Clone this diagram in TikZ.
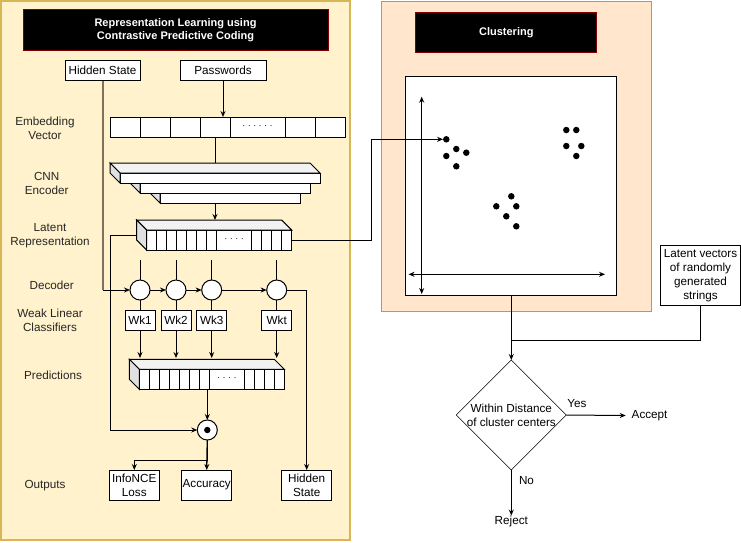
\documentclass[tikz,border=0pt]{standalone}
\usepackage{fontspec}
\setmainfont{Liberation Sans}
\usetikzlibrary{arrows.meta,positioning,shapes.geometric}
\definecolor{cpcfill}{HTML}{FFF2CC}
\definecolor{cpcline}{HTML}{D6B656}
\definecolor{clufill}{HTML}{FFE6CC}
\definecolor{cluline}{HTML}{D79B00}
\definecolor{titleline}{HTML}{800000}
\definecolor{hidline}{HTML}{7F7360}
\definecolor{topface}{HTML}{F2F2F2}
\definecolor{sideface}{HTML}{E0E0E0}
\tikzset{>={Stealth[length=6pt,width=5pt]}, % filled heads like the sketch
x=1pt, y=-1pt, % one unit is one pixel of the sketch, y runs down
every node/.style={font=\fontsize{11.7}{14}\selectfont, inner sep=0pt, outer sep=0pt},
box/.style={draw, fill=white, align=center, minimum width=50pt, minimum height=30pt}, % labelled boxes
title/.style={draw=titleline, fill=black, text=white, align=center, font=\fontsize{11}{13}\selectfont\bfseries},
cell/.style={draw, fill=white, minimum width=30pt, minimum height=20pt}, % one slot of a vector
bar/.style={draw, fill=white, minimum width=145pt, minimum height=20pt}, % front face of a long vector
unit/.style={circle, draw, fill=white, minimum size=20pt}, % decoder step
wk/.style={draw, fill=white, minimum width=30pt, minimum height=20pt},
lbl/.style={align=center, text=black!85}, % row names on the left
dot/.style={circle, fill=black, minimum size=6.5pt},
decision/.style={diamond, draw, line width=0.6pt, minimum width=110pt, minimum height=110pt},
}
% grey top and side faces behind a front face, depth 10
\newcommand{\depthfaces}[1]{%
\filldraw[fill=topface] (#1.north west) -- ++(-10,-10) -- ([shift={(-10,-10)}]#1.north east) -- (#1.north east) -- cycle;
\filldraw[fill=sideface] (#1.north west) -- ++(-10,-10) -- ([shift={(-10,-10)}]#1.south west) -- (#1.south west) -- cycle;}

\begin{document}
\begin{tikzpicture}[line width=1pt]
\useasboundingbox (0,0) rectangle (741,542);
% panels
\draw[fill=cpcfill, draw=cpcline, line width=1.5pt] (0.75,0.75) rectangle (350,540);
\draw[fill=clufill, draw=cluline, line width=1.5pt] (381.7,1.7) rectangle (651.7,311.7);
\node[title, minimum width=305pt, minimum height=40.7pt] (cpc) at (175.5,30.3) {Representation Learning using\\Contrastive Predictive Coding};
\node[title, minimum width=180.7pt, minimum height=39.6pt] (clu) at (506.3,32.5) {Clustering};

% row names
\node[lbl] (lemb) at (45,128) {Embedding\\Vector};
\node[lbl] (lcnn) at (46.7,183.7) {CNN\\Encoder};
\node[lbl] (llat) at (50,235.5) {Latent\\Representation};
\node[lbl] (ldec) at (51.7,285.7) {Decoder};
\node[lbl] (lwk) at (50,320) {Weak Linear\\Classifiers};
\node[lbl] (lpred) at (53,375) {Predictions};
\node[lbl] (lout) at (45,485.7) {Outputs};

% inputs
\node[draw, fill=white, minimum width=75pt, minimum height=20.7pt] (hs) at (102.5,70.4) {Hidden State};
\node[draw, fill=white, minimum width=86pt, minimum height=20.7pt] (pw) at (223,70.4) {Passwords};

% embedding vector
\node[cell] (e1) at (125,127) {};
\node[cell, right=0pt of e1] (e2) {};
\node[cell, right=0pt of e2] (e3) {};
\node[cell, right=0pt of e3] (e4) {};
\node[cell, minimum width=55pt, right=0pt of e4] (edots) {\fontsize{9}{9}\selectfont · · · · · ·};
\node[cell, right=0pt of edots] (e5) {};
\node[cell, right=0pt of e5] (e6) {};
\draw[->] (pw.south) -- (pw.south |- e4.north);

% cnn encoder
\node[draw, fill=white, minimum width=140pt, minimum height=10pt] (cnn3) at (230,198) {};
\depthfaces{cnn3}
\node[draw, fill=white, minimum width=170pt, minimum height=10pt] (cnn2) at (225,188) {};
\depthfaces{cnn2}
\node[draw, fill=white, minimum width=200pt, minimum height=10pt] (cnn1) at (220,178) {};
\depthfaces{cnn1}
\coordinate (cnntop) at (215,163);
\draw (e4.south) -- (cnntop);

% latent representation
\node[bar] (lat) at (219.2,240) {};
\depthfaces{lat}
\foreach \c in {10,20,...,70,105,115,125,135}
  \draw ([xshift=\c pt]lat.north west) -- ([xshift=\c pt]lat.south west);
\node (latdots) at ([xshift=87.5pt]lat.west) {\fontsize{9}{9}\selectfont · · · ·};
\coordinate (lattop) at (215,220);
\draw[->] (cnn3.south -| lattop) -- (lattop);

% decoder
\node[unit] (c1) at (140,290) {};
\node[unit] (c2) at (176,290) {};
\node[unit] (c3) at (211.7,290) {};
\node[unit] (c4) at (276.7,290) {};
\foreach \n in {c1,c2,c3,c4}
  \draw (\n.north) -- ++(0,-20);
\draw[hidline, line width=2pt] (hs.south) -- (hs.south |- c1);
\draw[->] (hs.south |- c1) -- (c1.west);
\draw[->] (c1) -- (c2);
\draw[->] (c2) -- (c3);
\draw[->] (c3) -- (c4);

% weak linear classifiers
\node[wk, below=10pt of c1] (wk1) {Wk1};
\node[wk, below=10pt of c2] (wk2) {Wk2};
\node[wk, below=10pt of c3] (wk3) {Wk3};
\node[wk, below=10pt of c4] (wkt) {Wkt};
\foreach \n/\w in {c1/wk1,c2/wk2,c3/wk3,c4/wkt}
  \draw (\n) -- (\w);

% predictions
\node[bar] (pred) at (211.8,379.3) {};
\depthfaces{pred}
\foreach \c in {10,20,...,70,105,115,125,135}
  \draw ([xshift=\c pt]pred.north west) -- ([xshift=\c pt]pred.south west);
\node (preddots) at ([xshift=87.5pt]pred.west) {\fontsize{9}{9}\selectfont · · · ·};
\coordinate (predtop) at (212,358);
\foreach \w in {wk1,wk2,wk3,wkt}
  \draw[->] (\w.south) -- (\w.south |- predtop);

% scoring and outputs
\node[unit] (odot) at (207.3,430) {};
\fill (odot.center) circle[radius=3.2];
\coordinate (latleft) at (137,235);
\draw[->] (latleft) -- ++(-27,0) |- (odot.west);
\draw[->, line width=1.3pt] (pred.south -| odot) -- (odot.north);
\node[box] (loss) at (134.3,485) {InfoNCE\\Loss};
\node[box] (acc) at (206.7,485) {Accuracy};
\node[box] (hsout) at (306.7,485) {Hidden\\State};
\draw[->, line width=1.3pt] (odot.south) -- (acc.north);
\draw[->] (odot.south) -- ++(0,20) -| (loss.north);
\draw[->] (c4.east) -| (hsout.north);

% latent space plot
\node[draw, fill=white, minimum width=210.7pt, minimum height=219.3pt] (plot) at (511.3,186.3) {};
\draw[<->] (421.7,96.7) -- (421.7,294);
\draw[<->] (408.5,274.3) -- (605,274.3);
\foreach \p [count=\i] in {(446.3,139.3),(456.3,149),(466.3,152.7),(446.3,156),(456.3,166.3),
  (566.3,130),(576.3,130),(566.3,146),(581.3,146),(576.3,156),
  (511.3,196.3),(496.3,206.3),(516.3,206.3),(506.3,216.3),(516.3,226.3)}
  \node[dot] (d\i) at \p {};
\draw[->] (lat.east) -- ++(79.3,0) |- (d1.west);

% decision
\node[draw, fill=white, align=center, minimum width=80.4pt, minimum height=60.3pt] (rnd) at (700.5,275.8) {Latent vectors\\of randomly\\generated\\strings};
\node[decision, label={[align=center]center:Within Distance\\of cluster centers}] (dec) at (511.3,415) {};
\coordinate (join) at (511.3,340);
\draw[->] (plot.south) -- (dec.north);
\draw (rnd.south) |- (join);
\node[inner xsep=6pt] (acpt) at (649.6,415.5) {Accept};
\node (rej) at (511.3,521) {Reject};
\draw[->] (dec.east) -- (acpt.west) node[pos=0, anchor=south west, xshift=1pt, yshift=7.5pt] {Yes};
\draw[->] (dec.south) -- (rej.north) node[pos=0, anchor=north west, xshift=7.7pt, yshift=-6.5pt] {No};
\end{tikzpicture}
\end{document}
